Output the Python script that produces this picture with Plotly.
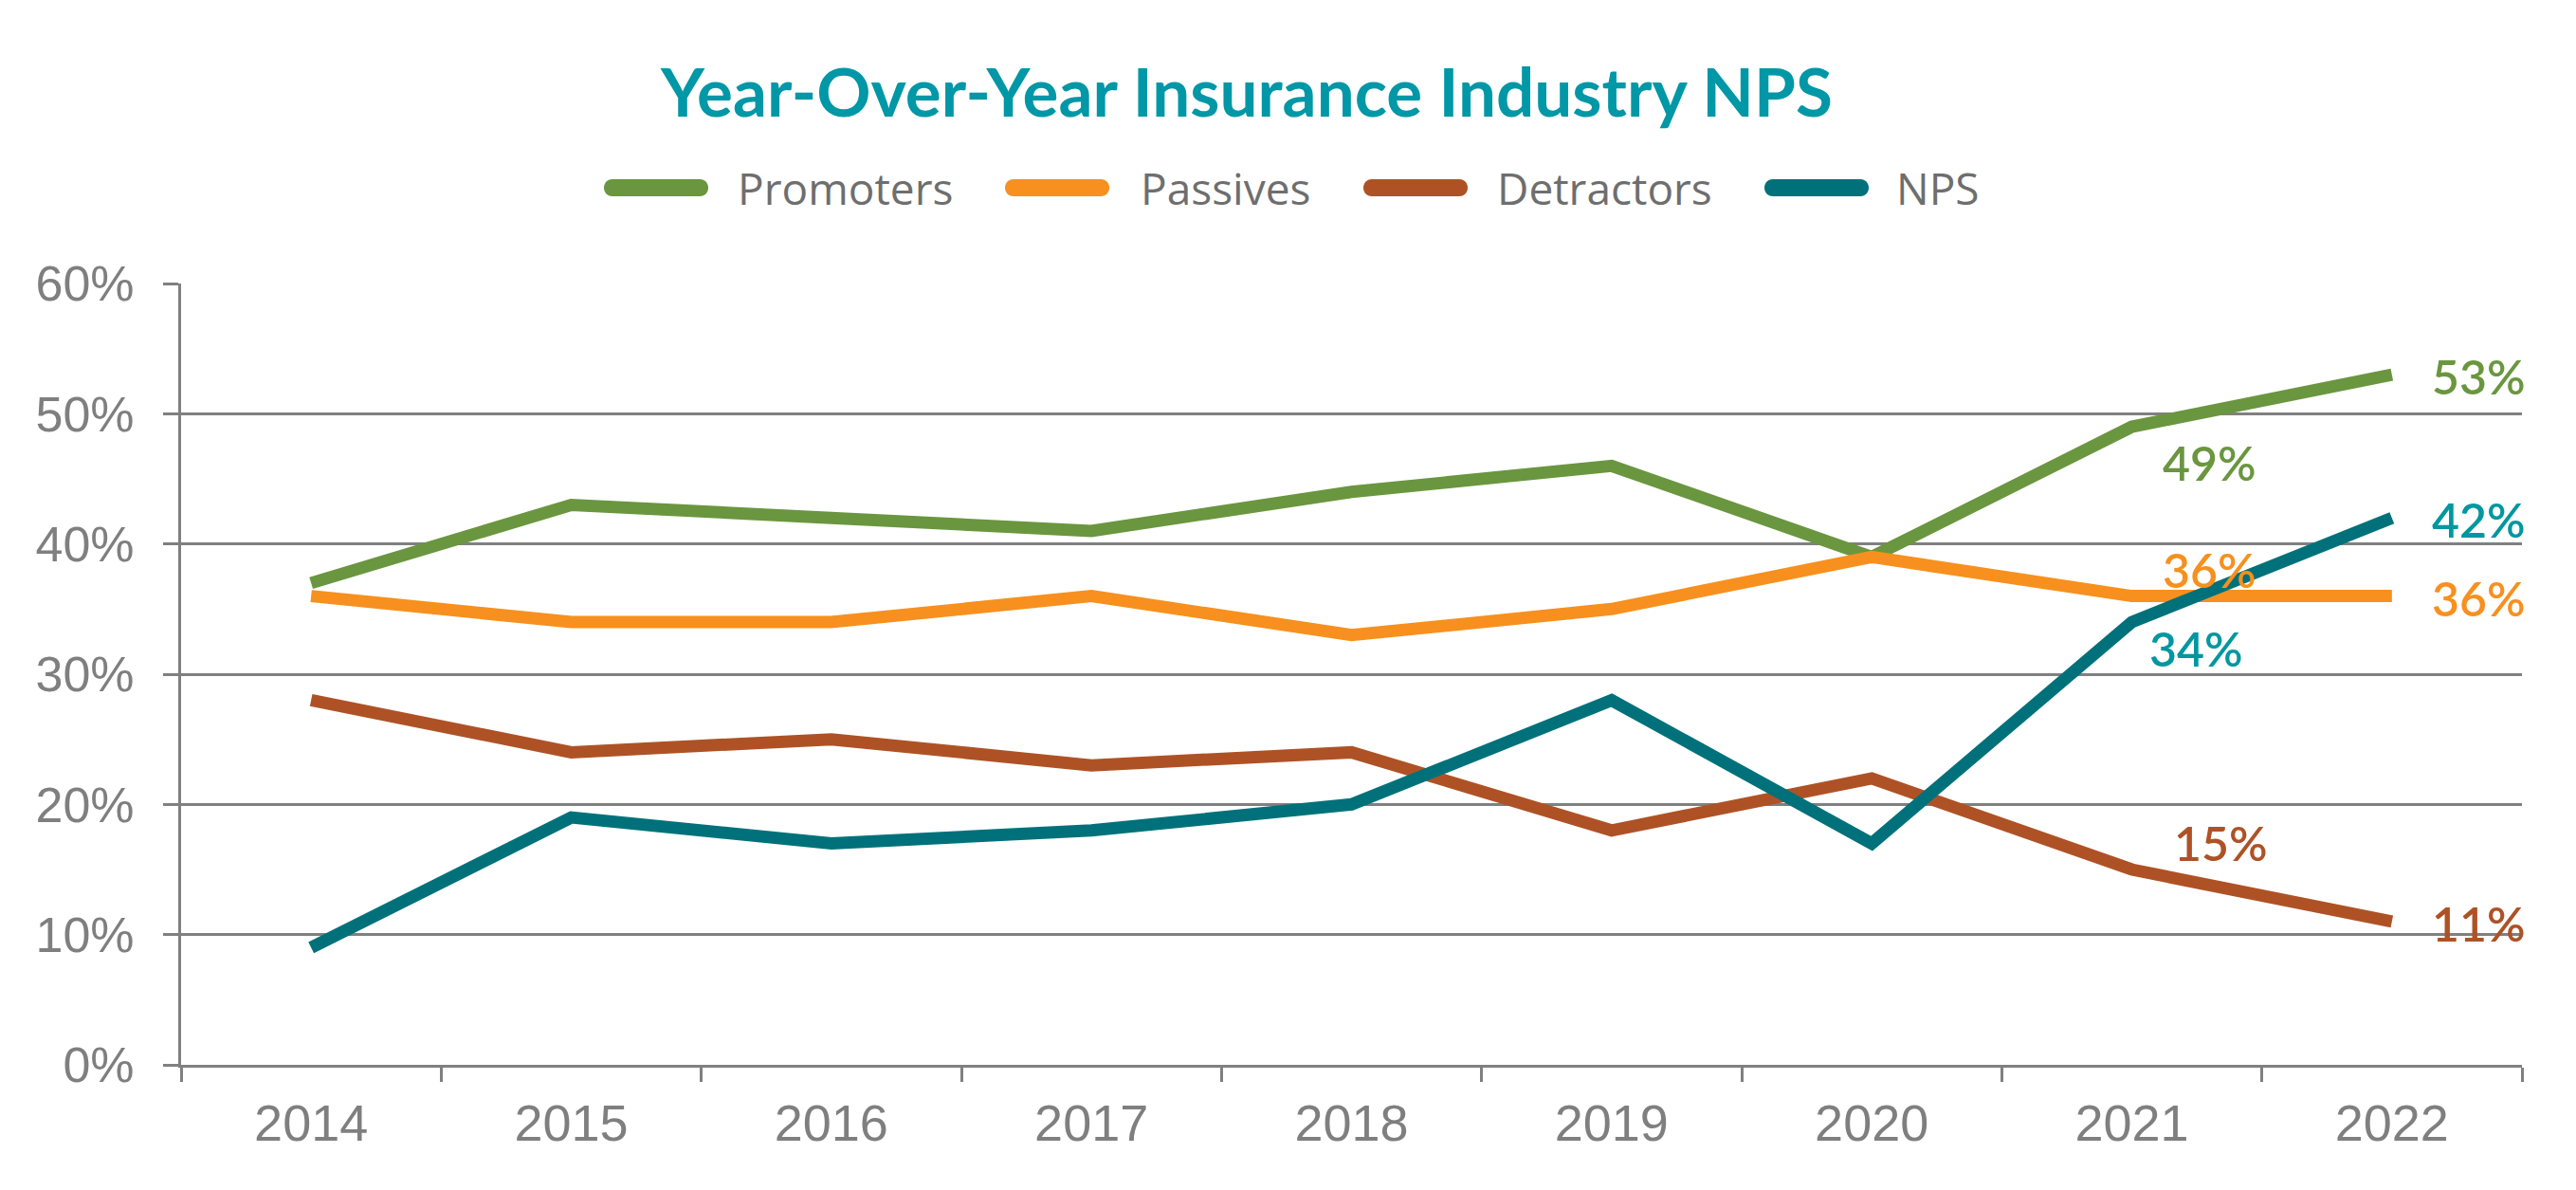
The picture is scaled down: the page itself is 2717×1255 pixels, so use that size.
import plotly.graph_objects as go

years = ["2014", "2015", "2016", "2017", "2018", "2019", "2020", "2021", "2022"]
promoters = [37, 43, 42, 41, 44, 46, 39, 49, 53]
passives = [36, 34, 34, 36, 33, 35, 39, 36, 36]
detractors = [28, 24, 25, 23, 24, 18, 22, 15, 11]
nps = [9, 19, 17, 18, 20, 28, 17, 34, 42]

series_names = ["Promoters", "Passives", "Detractors", "NPS"]
series_values = [promoters, passives, detractors, nps]
line_colors = ["#6A963F", "#F7901E", "#AE5226", "#00717A"]
label_colors = ["#6A963F", "#F7901E", "#AE5226", "#0097A0"]

OFF = 8  # default page body margin
W, H = 2717 - 2 * OFF, 1255 - 2 * OFF
L = 191 - OFF
T = 299 - OFF
R = W - (2660 - OFF)
B = H - (1123 - OFF)
pw = W - L - R
ph = H - T - B

fig = go.Figure()
for name, vals, col in zip(series_names, series_values, line_colors):
    fig.add_trace(go.Scatter(
        x=years, y=[v / 100 for v in vals], mode="lines", name=name,
        line=dict(color=col, width=13), showlegend=False,
    ))

label_font = "Lato, Open Sans, sans-serif"
ann = []
last = len(years) - 1
# end labels (2022)
for vals, col in zip(series_values, label_colors):
    ann.append(dict(x=last, y=vals[-1] / 100, xref="x", yref="y",
                    text=f"{vals[-1]}%", showarrow=False, xanchor="left",
                    yanchor="middle", xshift=40, yshift=-2,
                    font=dict(family=label_font, size=50, color=col, weight=600)))
# 2021 labels
offsets_2021 = [(82, -38), (82, 28), (94, 28), (68, -28)]  # promoters, passives, detractors, nps
for vals, col, (dx, dy) in zip(series_values, label_colors, offsets_2021):
    ann.append(dict(x=last - 1, y=vals[-2] / 100, xref="x", yref="y",
                    text=f"{vals[-2]}%", showarrow=False, xanchor="center",
                    yanchor="middle", xshift=dx, yshift=dy,
                    font=dict(family=label_font, size=50, color=col, weight=600)))

# manual legend (page pixel positions)
legend_sym_x = [692, 1115, 1493, 1916]
legend_txt_x = [776, 1201, 1577, 1998]
legend_y_px = 198
shapes = []
def px_x(X):
    return (X - OFF - L) / pw
def px_y(Y):
    return (H - B - (Y - OFF)) / ph
for name, col, sx, tx in zip(series_names, line_colors, legend_sym_x, legend_txt_x):
    shapes.append(dict(type="path", xref="paper", yref="paper",
                       xsizemode="pixel", ysizemode="pixel",
                       xanchor=px_x(sx), yanchor=px_y(legend_y_px),
                       path="M -46,-9 L 46,-9 C 58,-9 58,9 46,9 L -46,9 C -58,9 -58,-9 -46,-9 Z",
                       fillcolor=col, line=dict(width=0)))
    ann.append(dict(x=px_x(tx), y=px_y(legend_y_px), xref="paper", yref="paper",
                    text=name, showarrow=False, xanchor="left", yanchor="middle",
                    font=dict(family="Open Sans, sans-serif", size=46, color="#6E6E6E")))

fig.update_layout(
    width=W, height=H,
    margin=dict(l=L, r=R, t=T, b=B, autoexpand=False),
    paper_bgcolor="white", plot_bgcolor="white",
    title=dict(text="<b>Year-Over-Year Insurance Industry NPS</b>", xref="container",
               yref="container", x=(1315 - OFF) / W, y=1 - (98 - OFF) / H,
               xanchor="center", yanchor="middle",
               font=dict(family="Lato, Open Sans, sans-serif", size=71, color="#0097A7")),
    showlegend=False,
    annotations=ann, shapes=shapes,
    xaxis=dict(type="category", categoryorder="array", categoryarray=years,
               range=[-0.5, 8.5], tickson="boundaries", ticks="outside", ticklen=15,
               tickwidth=3, tickcolor="#808080", showline=True, linecolor="#808080",
               linewidth=3, showgrid=False, zeroline=False, ticklabelstandoff=12,
               tickfont=dict(family="Liberation Sans, Arial, sans-serif", size=54, color="#7F7F7F")),
    yaxis=dict(range=[0, 0.6], dtick=0.1, tickformat=".0%", ticks="outside", ticklen=16,
               tickwidth=3, tickcolor="#808080", showline=True, linecolor="#808080",
               linewidth=3, showgrid=True, gridcolor="#808080", gridwidth=3,
               zeroline=False, ticklabelstandoff=20,
               tickfont=dict(family="Liberation Sans, Arial, sans-serif", size=52, color="#7F7F7F")),
)

fig.write_html("out.html")
